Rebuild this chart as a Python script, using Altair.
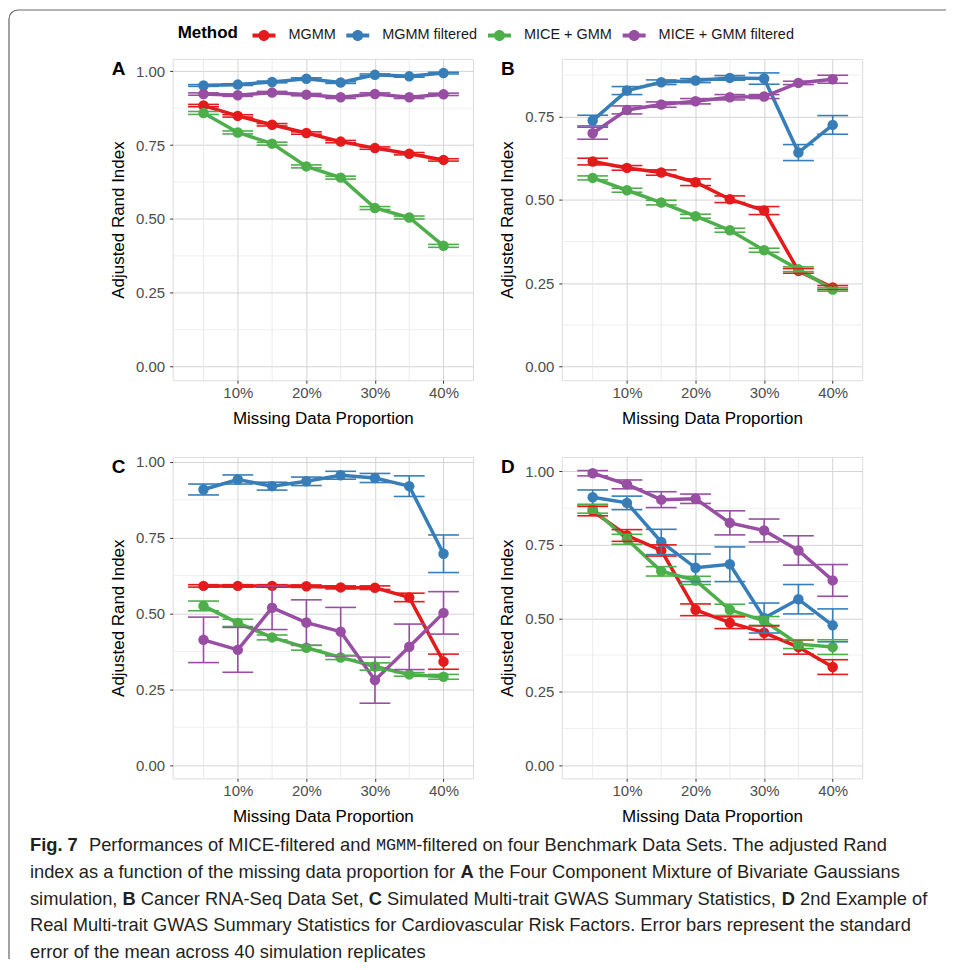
import altair as alt
import pandas as pd

methods = ["MGMM", "MGMM filtered", "MICE + GMM", "MICE + GMM filtered"]
colors = ["#E41A1C", "#377EB8", "#4DAF4A", "#984EA3"]
missing_pct = [5, 10, 15, 20, 25, 30, 35, 40]
x_ticks = [10, 20, 30, 40]
x_minor = [5, 15, 25, 35]
y_ticks_full = [0.0, 0.25, 0.5, 0.75, 1.0]
y_ticks_b = [0.0, 0.25, 0.5, 0.75]
y_minor = [0.125, 0.375, 0.625, 0.875]

# Panel A: Four Component Mixture of Bivariate Gaussians
A_mean = {
    "MGMM": [0.884, 0.849, 0.819, 0.791, 0.762, 0.740, 0.721, 0.700],
    "MGMM filtered": [0.952, 0.955, 0.964, 0.975, 0.962, 0.988, 0.983, 0.994],
    "MICE + GMM": [0.859, 0.793, 0.755, 0.678, 0.640, 0.537, 0.505, 0.409],
    "MICE + GMM filtered": [0.923, 0.919, 0.928, 0.921, 0.912, 0.923, 0.912, 0.922],
}
A_se = {
    "MGMM": [0.004, 0.004, 0.004, 0.004, 0.004, 0.004, 0.004, 0.004],
    "MGMM filtered": [0.003, 0.003, 0.003, 0.003, 0.003, 0.003, 0.003, 0.003],
    "MICE + GMM": [0.005, 0.005, 0.005, 0.005, 0.005, 0.005, 0.005, 0.005],
    "MICE + GMM filtered": [0.004, 0.004, 0.004, 0.004, 0.004, 0.004, 0.004, 0.004],
}

# Panel B: Cancer RNA-Seq
B_mean = {
    "MGMM": [0.615, 0.596, 0.582, 0.553, 0.502, 0.468, 0.287, 0.237],
    "MGMM filtered": [0.738, 0.828, 0.853, 0.858, 0.866, 0.864, 0.642, 0.725],
    "MICE + GMM": [0.566, 0.529, 0.492, 0.451, 0.409, 0.349, 0.292, 0.231],
    "MICE + GMM filtered": [0.700, 0.770, 0.786, 0.796, 0.808, 0.810, 0.851, 0.862],
}
B_se = {
    "MGMM": [0.010, 0.007, 0.008, 0.010, 0.010, 0.012, 0.007, 0.006],
    "MGMM filtered": [0.016, 0.012, 0.007, 0.006, 0.007, 0.017, 0.024, 0.028],
    "MICE + GMM": [0.006, 0.006, 0.007, 0.006, 0.006, 0.006, 0.007, 0.005],
    "MICE + GMM filtered": [0.018, 0.012, 0.008, 0.008, 0.008, 0.006, 0.005, 0.012],
}

# Panel C: Simulated Multi-trait GWAS
C_mean = {
    "MGMM": [0.591, 0.591, 0.591, 0.590, 0.586, 0.585, 0.553, 0.341],
    "MGMM filtered": [0.909, 0.942, 0.920, 0.936, 0.956, 0.947, 0.920, 0.697],
    "MICE + GMM": [0.525, 0.469, 0.421, 0.387, 0.355, 0.325, 0.299, 0.291],
    "MICE + GMM filtered": [0.413, 0.380, 0.519, 0.470, 0.440, 0.280, 0.390, 0.502],
}
C_se = {
    "MGMM": [0.004, 0.004, 0.004, 0.004, 0.005, 0.006, 0.014, 0.025],
    "MGMM filtered": [0.018, 0.015, 0.013, 0.014, 0.013, 0.015, 0.034, 0.062],
    "MICE + GMM": [0.016, 0.012, 0.008, 0.008, 0.007, 0.012, 0.006, 0.008],
    "MICE + GMM filtered": [0.075, 0.074, 0.072, 0.075, 0.080, 0.076, 0.075, 0.070],
}

# Panel D: Real Multi-trait GWAS (cardiovascular)
D_mean = {
    "MGMM": [0.865, 0.782, 0.731, 0.529, 0.485, 0.451, 0.402, 0.334],
    "MGMM filtered": [0.912, 0.893, 0.760, 0.672, 0.684, 0.501, 0.565, 0.476],
    "MICE + GMM": [0.873, 0.769, 0.660, 0.629, 0.529, 0.491, 0.412, 0.402],
    "MICE + GMM filtered": [0.994, 0.956, 0.904, 0.907, 0.825, 0.799, 0.731, 0.629],
}
D_se = {
    "MGMM": [0.016, 0.020, 0.019, 0.020, 0.020, 0.023, 0.024, 0.025],
    "MGMM filtered": [0.025, 0.023, 0.043, 0.047, 0.059, 0.051, 0.050, 0.056],
    "MICE + GMM": [0.015, 0.017, 0.016, 0.014, 0.019, 0.015, 0.015, 0.025],
    "MICE + GMM filtered": [0.009, 0.015, 0.027, 0.016, 0.041, 0.039, 0.050, 0.054],
}

# Caption: (text, style, spaces after); style n=normal, b=bold, m=monospace
caption_lines = [
    [("Fig. 7", "b", 2.2), ("Performances of MICE-filtered and", "n", 1), ("MGMM", "m", 0),
     ("-filtered on four Benchmark Data Sets. The adjusted Rand", "n", 0)],
    [("index as a function of the missing data proportion for", "n", 1), ("A", "b", 1),
     ("the Four Component Mixture of Bivariate Gaussians", "n", 0)],
    [("simulation,", "n", 1), ("B", "b", 1), ("Cancer RNA-Seq Data Set,", "n", 1),
     ("C", "b", 1), ("Simulated Multi-trait GWAS Summary Statistics,", "n", 1),
     ("D", "b", 1), ("2nd Example of", "n", 0)],
    [("Real Multi-trait GWAS Summary Statistics for Cardiovascular Risk Factors. Error bars represent the standard", "n", 0)],
    [("error of the mean across 40 simulation replicates", "n", 0)],
]
caption_ref_width = [883, 906, 904, 884, None]
caption_y = [389, 416, 443, 469, 496]
CAPTION_X0 = -143

FONT = "Liberation Sans"
W, H = 301, 322
XDOM = [0.5, 44.3]
CAP_HALF = 2.25

# Arial/Liberation Sans advance widths (per 1000 em) used to flow caption segments
_W = {' ': 278, ',': 278, '-': 333, '.': 278, '+': 584, '%': 889}
for _c in "0123456789":
    _W[_c] = 556
_W.update(dict(zip("ABCDEFGHIJKLMNOPQRSTUVWXYZ",
                   [667, 667, 722, 722, 667, 611, 778, 722, 278, 500, 667, 556, 833, 722, 778, 667, 778, 722, 667, 611,
                    722, 667, 944, 667, 667, 611])))
_W.update(dict(zip("abcdefghijklmnopqrstuvwxyz",
                   [556, 556, 500, 556, 556, 278, 556, 556, 222, 222, 500, 222, 833, 556, 556, 556, 556, 333, 500, 278,
                    556, 500, 722, 500, 500, 500])))
_WB = dict(_W)
_WB.update({'A': 722, 'B': 722, 'C': 722, 'D': 722, 'F': 611, 'g': 611, 'i': 278, 'l': 278, 'r': 389, 't': 333})
MONO_SCALE = 0.92  # mono font size relative to caption size


def seg_em(text, style):
    if style == "m":
        return 0.6 * MONO_SCALE * len(text)
    table = _WB if style == "b" else _W
    return sum(table.get(c, 556) for c in text) / 1000.0


def line_em(line):
    return sum(seg_em(t, s) + g * 0.278 for t, s, g in line)


CAP_FS = min(rw / line_em(ln) for ln, rw in zip(caption_lines, caption_ref_width) if rw)

legend_path = ("M-1,-0.17L1,-0.17L1,0.17L-1,0.17Z "
               "M-0.48,0A0.48,0.48 0 1,1 0.48,0A0.48,0.48 0 1,1 -0.48,0Z")


def build_df(means, ses):
    rows = []
    for m in methods:
        for x, v, s in zip(missing_pct, means[m], ses[m]):
            rows.append({"method": m, "pct": x, "ari": v, "se": s})
    return pd.DataFrame(rows)


def panel(tag, means, ses, ydom, yticks, extra_before=(), extra_after=()):
    df = build_df(means, ses)
    xs = alt.Scale(domain=XDOM, nice=False, zero=False)
    ys = alt.Scale(domain=ydom, nice=False, zero=False)
    xax = alt.Axis(values=x_ticks, labelExpr="datum.value + '%'", title="Missing Data Proportion",
                   titleY=38, titleBaseline="middle", grid=True, gridColor="#D4D4D4", gridWidth=1,
                   domain=False, tickColor="#333333", tickSize=3, labelPadding=2,
                   labelFont=FONT, labelFontSize=15, labelColor="#4D4D4D",
                   titleFont=FONT, titleFontSize=17, titleFontWeight="normal", titleColor="#000000")
    yax = alt.Axis(values=yticks, format=".2f", title="Adjusted Rand Index",
                   titleX=-54, titleBaseline="middle", grid=True, gridColor="#D4D4D4", gridWidth=1,
                   domain=False, tickColor="#333333", tickSize=3, labelPadding=5,
                   labelFont=FONT, labelFontSize=15, labelColor="#4D4D4D",
                   titleFont=FONT, titleFontSize=17, titleFontWeight="normal", titleColor="#000000")
    color = alt.Color("method:N", scale=alt.Scale(domain=methods, range=colors),
                      legend=alt.Legend(title="Method", orient="none", legendX=5, legendY=-35,
                                        direction="horizontal", titleOrient="left",
                                        titleFont=FONT, titleFontSize=17, titleFontWeight="bold",
                                        titleColor="#000000", titlePadding=14,
                                        labelFont=FONT, labelFontSize=14.5, labelColor="#1a1a1a",
                                        labelOffset=13, columnPadding=10,
                                        symbolType=legend_path, symbolSize=529,
                                        symbolStrokeWidth=0, symbolOpacity=1))
    base = alt.Chart(df)
    vgrid = alt.Chart(pd.DataFrame({"g": x_minor})).mark_rule(color="#E6E6E6", strokeWidth=0.8).encode(
        x=alt.X("g:Q", scale=xs, axis=xax))
    hgrid = alt.Chart(pd.DataFrame({"g": [v for v in y_minor if v < ydom[1]]})).mark_rule(
        color="#EBEBEB", strokeWidth=0.8).encode(y=alt.Y("g:Q", scale=ys, axis=yax))
    X = alt.X("pct:Q", scale=xs, axis=xax)
    Y = alt.Y("ari:Q", scale=ys, axis=yax)
    lines = base.mark_line(strokeWidth=3.5).encode(x=X, y=Y, color=color)
    points = base.mark_point(filled=True, size=110, opacity=1).encode(x=X, y=Y, color=color)
    bars = base.transform_calculate(lo="datum.ari - datum.se", hi="datum.ari + datum.se",
                                    xl="datum.pct - %s" % CAP_HALF, xr="datum.pct + %s" % CAP_HALF)
    vbar = bars.mark_rule(strokeWidth=1.6).encode(
        x=X, y=alt.Y("lo:Q", scale=ys, axis=yax), y2="hi:Q", color=color)
    cap_lo = bars.mark_rule(strokeWidth=1.6).encode(
        x=alt.X("xl:Q", scale=xs, axis=xax), x2="xr:Q", y=alt.Y("lo:Q", scale=ys, axis=yax), color=color)
    cap_hi = bars.mark_rule(strokeWidth=1.6).encode(
        x=alt.X("xl:Q", scale=xs, axis=xax), x2="xr:Q", y=alt.Y("hi:Q", scale=ys, axis=yax), color=color)
    tag_layer = alt.Chart(pd.DataFrame({"t": [tag]})).mark_text(
        align="left", baseline="middle", font=FONT, fontWeight="bold", fontSize=19, color="#000000").encode(
        x=alt.value(-61), y=alt.value(10), text="t:N")
    layers = list(extra_before) + [vgrid, hgrid, lines, points, vbar, cap_lo, cap_hi, tag_layer] + list(extra_after)
    return alt.layer(*layers).properties(width=W, height=H)


# Figure frame (decorative border of the journal figure box)
frame_top = alt.Chart(pd.DataFrame({"k": [0]})).mark_rule(color="#666666", strokeWidth=1).encode(
    x=alt.value(-155), x2=alt.value(775), y=alt.value(-49))
frame_left = alt.Chart(pd.DataFrame({"k": [0]})).mark_rule(color="#444444", strokeWidth=1).encode(
    x=alt.value(-164), y=alt.value(-40), y2=alt.value(902))
frame_corner = alt.Chart(pd.DataFrame({"k": [0]})).mark_arc(
    radius=9.5, radius2=8.5, theta=4.712, theta2=6.283, color="#555555").encode(
    x=alt.value(-155), y=alt.value(-40))

caption_layers = []
for line, yv in zip(caption_lines, caption_y):
    xpos = CAPTION_X0
    for text, style, gap in line:
        caption_layers.append(
            alt.Chart(pd.DataFrame({"t": [text]})).mark_text(
                align="left", baseline="middle",
                font=("Liberation Mono" if style == "m" else FONT),
                fontSize=(CAP_FS * MONO_SCALE if style == "m" else CAP_FS),
                fontWeight=("bold" if style == "b" else "normal"), color="#231F20").encode(
                x=alt.value(round(xpos, 1)), y=alt.value(yv), text="t:N"))
        xpos += (seg_em(text, style) + gap * 0.278) * CAP_FS

pA = panel("A", A_mean, A_se, [-0.046, 1.042], y_ticks_full, extra_before=[frame_top, frame_left, frame_corner])
pB = panel("B", B_mean, B_se, [-0.041, 0.923], y_ticks_b)
pC = panel("C", C_mean, C_se, [-0.044, 1.016], y_ticks_full, extra_after=caption_layers)
pD = panel("D", D_mean, D_se, [-0.045, 1.049], y_ticks_full)

chart = alt.concat(pA, pB, pC, pD, columns=2, spacing={"row": 77, "column": 89}, bounds="flush").properties(
    padding={"left": 0, "top": 0, "right": 0, "bottom": 0}
).configure_view(stroke="#333333", strokeWidth=1).configure(background="white")

chart.save("out.html", embed_options={"renderer": "svg", "actions": False})
